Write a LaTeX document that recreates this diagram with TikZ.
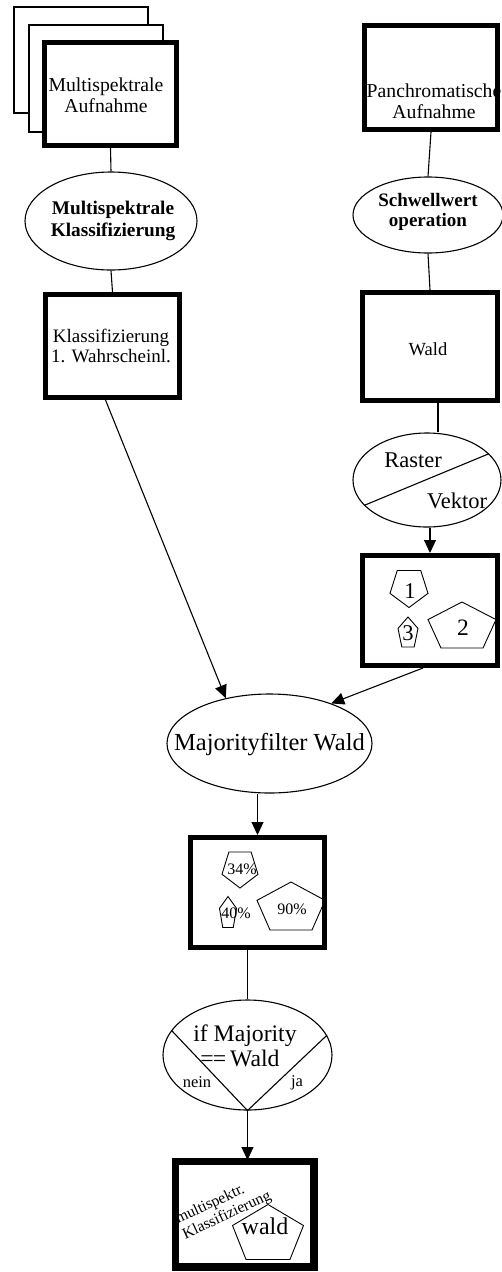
\documentclass[tikz,border=0pt]{standalone}
\usepackage{fontspec}
\setmainfont{Liberation Serif}
\usetikzlibrary{arrows.meta,calc,shapes.geometric}
\newcommand\pentshape[4]{\draw[pentline,shift={(#1,#2)},xscale=#3,yscale=#4] (0,-.5) -- (.5,-.118) -- (.309,.5) -- (-.309,.5) -- (-.5,-.118) -- cycle;}
\begin{document}
\begin{tikzpicture}[x=1pt,y=-1pt,
  thickbox/.style={draw, line width=5pt, fill=white, inner sep=0pt, rectangle},
  backbox/.style={draw, line width=1.2pt, fill=white, inner sep=0pt, rectangle},
  oval/.style={draw, ellipse, line width=1.1pt, fill=white, inner sep=0pt},
  lbl/.style={inner sep=0pt, align=center},
  conn/.style={line width=1.1pt},
  arr/.style={conn, -{Triangle[length=13pt,width=12pt]}},
  pentline/.style={line width=0.9pt},
  fA/.style={font=\fontsize{19.7}{21}\selectfont},
  fB/.style={font=\fontsize{19.3}{22}\selectfont\bfseries},
  fC/.style={font=\fontsize{22.5}{24}\selectfont},
  fD/.style={font=\fontsize{16}{17}\selectfont},
  fE/.style={font=\fontsize{24.5}{26}\selectfont}]
\useasboundingbox (0,0) rectangle (501,1272);

% ---- left column
\node[backbox, minimum width=134, minimum height=106] (b1) at (81,60) {};
\node[backbox, minimum width=134, minimum height=107] (b2) at (96,78.5) {};
\node[thickbox, minimum width=132, minimum height=103] (ms) at (110.5,94) {};
\node[lbl, fA] (mst) at (106,95) {Multispektrale\\Aufnahme};

\node[oval, minimum width=172, minimum height=98] (msk) at (111,221) {};
\node[lbl, fB] (mskt) at (113,221) {Multispektrale\\Klassifizierung};

\node[thickbox, minimum width=134, minimum height=103] (kl) at (112.5,346) {};
\node[lbl, font=\fontsize{19}{20.5}\selectfont] (klt) at (111,346) {Klassifizierung\\1. Wahrscheinl.};

% ---- right column
\node[thickbox, minimum width=133, minimum height=104] (pa) at (431,77.5) {};
\node[lbl, fA] (pat) at (434,101) {Panchromatische\\Aufnahme};

\node[oval, minimum width=150, minimum height=76] (sw) at (428,215) {};
\node[lbl, font=\fontsize{19}{19.5}\selectfont\bfseries] (swt) at (428,212) {Schwellwert\\operation};

\node[thickbox, minimum width=135, minimum height=108] (wd) at (430,346.5) {};
\node[lbl, font=\fontsize{18.5}{20}\selectfont] (wdt) at (428,349) {Wald};

\node[oval, minimum width=148, minimum height=94] (rv) at (427,480) {};
\draw[conn] (rv.202.6) -- (rv.23.3);
\node[lbl, fC] (rast) at (413,460) {Raster};
\node[lbl, fC] (vekt) at (457,501) {Vektor};

\node[thickbox, minimum width=135, minimum height=110] (pb) at (430,610.5) {};
\pentshape{409}{589}{38}{-37}
\pentshape{408}{632}{20}{30}
\pentshape{462}{625}{68}{46}
\node[lbl, fC] (p1) at (410,591) {1};
\node[lbl, fC] (p3) at (408,633) {3};
\node[lbl, font=\fontsize{23.5}{25}\selectfont] (p2) at (463,628) {2};

% ---- majority filter
\node[oval, minimum width=205, minimum height=99] (mj) at (269.5,743.5) {};
\node[lbl, fE] (mjt) at (269.5,745) {Majorityfilter Wald};

\node[thickbox, minimum width=134, minimum height=110] (rb) at (257.5,892.5) {};
\pentshape{240}{870}{36}{-36}
\pentshape{228}{912}{17}{31}
\pentshape{291}{906}{68}{48}
\node[lbl, fD] (q34) at (242,869) {34\%};
\node[lbl, fD] (q40) at (236,913) {40\%};
\node[lbl, fD] (q90) at (292,909) {90\%};

% ---- decision
\node[oval, minimum width=169, minimum height=110] (ie) at (247.5,1055) {};
\draw[conn] (ie.162.4) -- (ie.south);
\draw[conn] (ie.14.8) -- (ie.south);
\node[lbl, font=\fontsize{23.7}{25}\selectfont] (iet1) at (245,1036) {if Majority};
\node[lbl, font=\fontsize{23.7}{25}\selectfont] (iet2) at (240,1058) {=\kern-1pt=\,Wald};
\node[lbl, font=\fontsize{16.5}{18}\selectfont] (nein) at (197,1082) {nein};
\node[lbl, font=\fontsize{16.5}{18}\selectfont] (ja) at (297,1083) {ja};

\node[thickbox, minimum width=136, minimum height=103] (fb) at (244.5,1214) {};
\begin{scope}
\clip (fb.north west) rectangle (fb.south east);
\node[lbl, align=left, rotate=25, font=\fontsize{15.6}{17}\selectfont] (fbt) at (223.5,1208) {multispektr.\\Klassifizierung};
\end{scope}
\draw[line width=5pt] (fb.north west) rectangle (fb.south east);
\pentshape{268}{1232}{71}{55}
\node[lbl, font=\fontsize{24}{26}\selectfont] (wt) at (265,1226) {wald};

% ---- connectors
\draw[conn] (ms.south) -- (msk.north);
\draw[conn] (msk.south) -- (kl.north);
\draw[conn] (pa.south) -- (sw.north);
\draw[conn] (sw.south) -- (wd.north);
\coordinate (wdo) at (438,403);
\draw[conn] (wdo) -- (wdo |- rv.north);
\draw[arr] (rv.south -| pb.north) -- (pb.north);
\draw[arr] ($(kl.south)+(-7,0)$) -- (mj.134.4);
\draw[arr] ($(pb.south)+(-7,0)$) -- (mj.33.6);
\draw[arr] (mj.south -| rb.north) -- (rb.north);
\draw[conn] (rb.south -| ie.north) -- (ie.north);
\draw[arr] (ie.south) -- (ie.south |- fb.north);
\end{tikzpicture}
\end{document}
